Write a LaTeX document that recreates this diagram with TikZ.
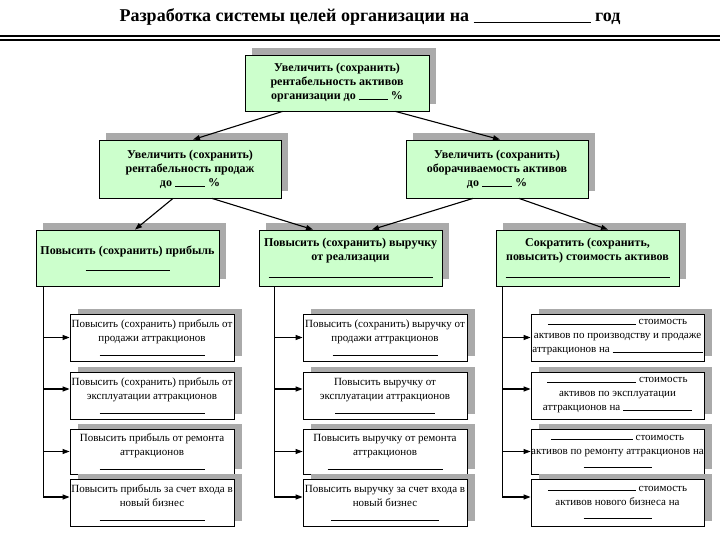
\documentclass[tikz,border=0pt]{standalone}
\usepackage{fontspec}
\setmainfont{Liberation Serif}
\usetikzlibrary{arrows.meta,shadows,calc}
\definecolor{boxgreen}{RGB}{204,255,204}
\definecolor{shgray}{RGB}{170,170,170}
\begin{document}
\begin{tikzpicture}[x=1pt,y=-1pt,
  gbox/.style={draw=black, line width=0.8pt, fill=boxgreen, align=center, inner sep=0pt,
    font=\fontsize{12}{14}\selectfont\bfseries,
    general shadow={fill=shgray, shadow xshift=7pt, shadow yshift=7pt}},
  wbox/.style={draw=black, line width=0.8pt, fill=white, align=center, inner sep=0pt,
    minimum width=164pt, minimum height=47pt,
    font=\fontsize{11}{14}\selectfont,
    general shadow={fill=shgray, shadow xshift=8pt, shadow yshift=5pt}},
  arr/.style={line width=1.1pt, -{Triangle[length=7pt,width=5pt]}},
  trunk/.style={line width=0.8pt},
  ul/.style={}]
\useasboundingbox (0,0) rectangle (720,540);
\fill[white] (0,0) rectangle (720,540);

% title
\node[font=\fontsize{18}{20}\selectfont\bfseries] (title) at (370,17)
  {Разработка системы целей организации на \rule[-1pt]{117pt}{0.8pt} год};
\coordinate (hlL) at (0,36); \coordinate (hlR) at (720,36);
\draw[line width=1.6pt] (hlL) -- (hlR);
\draw[line width=1.2pt] ([yshift=-4pt]hlL) -- ([yshift=-4pt]hlR);

% level 1
\node[gbox, minimum width=184pt, minimum height=56pt] (T) at (337,83)
  {Увеличить (сохранить)\\рентабельность активов\\организации до \rule{29pt}{0.6pt}\ \%};

% level 2
\node[gbox, minimum width=182pt, minimum height=58pt] (L1) at (190,169)
  {Увеличить (сохранить)\\рентабельность продаж\\до \rule{30pt}{0.6pt}\ \%};
\node[gbox, minimum width=182pt, minimum height=58pt] (R1) at (497,169)
  {Увеличить (сохранить)\\оборачиваемость активов\\до \rule{30pt}{0.6pt}\ \%};

% level 3
\node[gbox, minimum width=183pt, minimum height=56pt] (A) at (127.5,258)
  {Повысить (сохранить) прибыль\\[2pt]\rule{84pt}{0.6pt}};
\node[gbox, minimum width=183pt, minimum height=56pt] (B) at (350.5,258)
  {Повысить (сохранить) выручку\\от реализации\\[3pt]\rule{164pt}{0.6pt}};
\node[gbox, minimum width=183pt, minimum height=56pt] (C) at (587.5,258)
  {Сократить (сохранить,\\повысить) стоимость активов\\[3pt]\rule{164pt}{0.6pt}};

% bottom boxes, column a
\node[wbox] (a1) at (152,337.5)
  {Повысить (сохранить) прибыль от\\продажи аттракционов\\\rule{105pt}{0.6pt}};
\node[wbox] (a2) at (152,395.5)
  {Повысить (сохранить) прибыль от\\эксплуатации аттракционов\\\rule{105pt}{0.6pt}};
\node[wbox, minimum height=45pt] (a3) at (152,451.5)
  {Повысить прибыль от ремонта\\аттракционов\\\rule{105pt}{0.6pt}};
\node[wbox] (a4) at (152,502.5)
  {Повысить прибыль за счет входа в\\новый бизнес\\\rule{105pt}{0.6pt}};

% column b
\node[wbox] (b1) at (385,337.5)
  {Повысить (сохранить) выручку от\\продажи аттракционов\\\rule{105pt}{0.6pt}};
\node[wbox] (b2) at (385,395.5)
  {Повысить выручку от\\эксплуатации аттракционов\\\rule{100pt}{0.6pt}};
\node[wbox, minimum height=45pt] (b3) at (385,451.5)
  {Повысить выручку от ремонта\\аттракционов\\\rule{115pt}{0.6pt}};
\node[wbox] (b4) at (385,502.5)
  {Повысить выручку за счет входа в\\новый бизнес\\\rule{108pt}{0.6pt}};

% column c
\node[wbox, minimum width=173pt] (c1) at (617.5,337.5)
  {\rule{88pt}{0.6pt} стоимость\\активов по производству и продаже\\аттракционов на \rule{90pt}{0.6pt}};
\node[wbox, minimum width=173pt] (c2) at (617.5,395.5)
  {\rule{89pt}{0.6pt} стоимость\\активов по эксплуатации\\аттракционов на \rule{69pt}{0.6pt}};
\node[wbox, minimum width=173pt, minimum height=45pt] (c3) at (617.5,451.5)
  {\rule{82pt}{0.6pt} стоимость\\активов по ремонту аттракционов на\\\rule{68pt}{0.6pt}};
\node[wbox, minimum width=173pt] (c4) at (617.5,502.5)
  {\rule{88pt}{0.6pt} стоимость\\активов нового бизнеса на\\\rule{68pt}{0.6pt}};

% tree connectors
\draw[arr] ([xshift=38pt]T.south west) -- ([xshift=3pt]L1.north);
\draw[arr] ([xshift=-34pt]T.south east) -- ([xshift=3pt]R1.north);
\draw[arr] ([xshift=-17pt]L1.south) -- ([xshift=7.5pt]A.north);
\draw[arr] ([xshift=22pt]L1.south) -- ([xshift=-37.5pt]B.north);
\draw[arr] ([xshift=-24pt]R1.south) -- ([xshift=21.5pt]B.north);
\draw[arr] ([xshift=22pt]R1.south) -- ([xshift=20.5pt]C.north);

% trunks
\coordinate (tA) at (43,0);
\coordinate (tB) at (274,0);
\coordinate (tC) at (502,0);
\foreach \c/\P/\t in {a/A/tA, b/B/tB, c/C/tC}{
  \coordinate (\c1in) at (\c1.west);
  \coordinate (\c2in) at ([yshift=6.5pt]\c2.west);
  \coordinate (\c3in) at (\c3.west);
  \coordinate (\c4in) at ([yshift=5.5pt]\c4.west);
  \draw[trunk] (\t |- \P.south) -- (\t |- \c4in);
  \draw[arr] (\t |- \c1in) -- (\c1in);
  \draw[arr] (\t |- \c2in) -- (\c2in);
  \draw[arr, line width=0.8pt] (\t |- \c3in) -- (\c3in);
  \draw[arr] (\t |- \c4in) -- (\c4in);
}
\end{tikzpicture}
\end{document}
